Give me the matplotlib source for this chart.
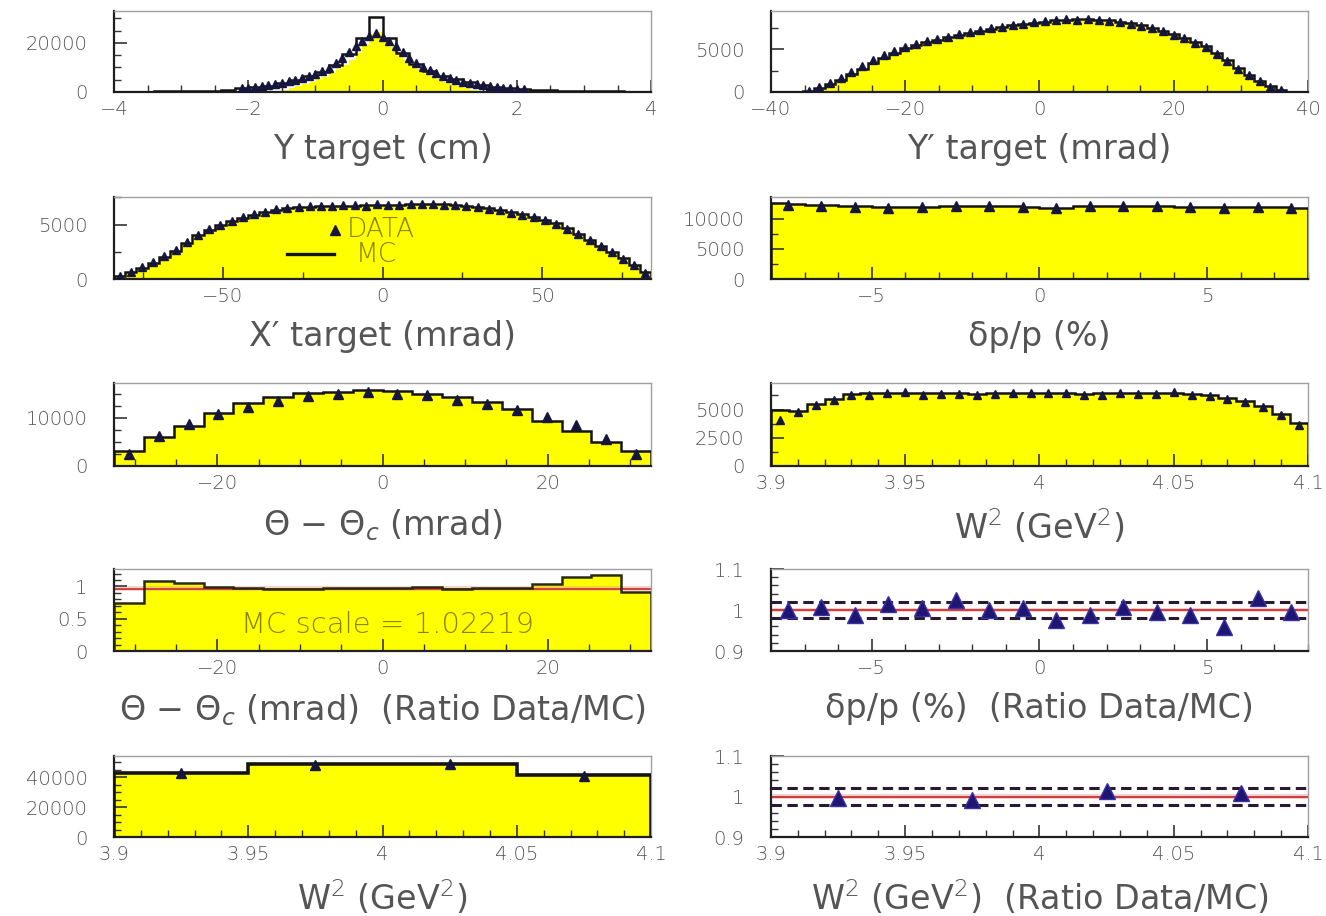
import numpy as np
import matplotlib
matplotlib.use('Agg')
import matplotlib.pyplot as plt
from matplotlib.ticker import FixedLocator, MultipleLocator, FuncFormatter

# ------------------------------------------------------------------ data
# Panel 1 : Y target (cm)
yt_range = (-4.0, 4.0)
yt_mc = [120, 150, 180, 220, 260, 320, 400, 500, 700, 1500,
         1900, 2600, 3600, 4900, 6400, 8300, 11000, 15500, 22000, 30500,
         22000, 15800, 11500, 8500, 6600, 5100, 3900, 2900, 2100, 1700,
         1400, 800, 600, 480, 400, 330, 270, 220, 180, 150]
yt_fill_range = (-1.6, 1.6)
yt_fill = [300, 900, 1600, 2400, 3300, 4200, 5200, 6300, 7600, 9200,
           11000, 13200, 16000, 19500, 23500, 24300, 21500, 18500, 15500, 13000,
           11000, 9200, 7700, 6400, 5200, 4200, 3300, 2400, 1600, 900, 400, 100]
yt_data_x = [-2.1, -2.0, -1.9, -1.8, -1.7, -1.6, -1.5, -1.4, -1.3, -1.2, -1.1,
             -1.0, -0.9, -0.8, -0.7, -0.6, -0.5, -0.4, -0.3, -0.2, -0.1,
             0.0, 0.1, 0.2, 0.3, 0.4, 0.5, 0.6, 0.7, 0.8, 0.9, 1.0,
             1.1, 1.2, 1.3, 1.4, 1.5, 1.6, 1.7, 1.8, 1.9, 2.0, 2.1]
yt_data = [1500, 1800, 2100, 2400, 2800, 3200, 3700, 4300, 4900, 5600, 6400,
           7400, 8500, 9900, 11700, 13800, 16300, 18800, 20800, 22800, 24000,
           22600, 20800, 18600, 16200, 13900, 11900, 10200, 8800, 7600, 6600, 5700,
           4900, 4200, 3600, 3100, 2700, 2300, 2000, 1800, 1600, 1400, 1200]

# Panel 2 : Y' target (mrad)
ypt_range = (-40.0, 40.0)
ypt_mc = [0, 0, 0, 100, 450, 900, 1450, 2100, 2750, 3400,
          4000, 4600, 5150, 5500, 5850, 6150, 6400, 6650, 6900, 7150,
          7350, 7600, 7800, 7950, 8100, 8250, 8400, 8500, 8550, 8550,
          8500, 8400, 8250, 8050, 7800, 7500, 7150, 6800, 6350, 5900,
          5350, 4600, 3700, 2800, 2000, 1300, 650, 250, 0, 0]
ypt_data = [0, 0, 0, 150, 550, 1050, 1650, 2350, 3050, 3800,
            4350, 4850, 5300, 5650, 5950, 6250, 6500, 6750, 7000, 7250,
            7450, 7650, 7850, 8000, 8150, 8300, 8400, 8550, 8500, 8600,
            8450, 8350, 8200, 8000, 7700, 7450, 7100, 6700, 6300, 5800,
            5250, 4500, 3600, 2750, 1950, 1250, 600, 200, 0, 0]

# Panel 3 : X' target (mrad)
xpt_range = (-84.0, 84.0)
xpt_mc = [250, 600, 1050, 1500, 2000, 2600, 3300, 4000, 4500, 4950, 5300, 5600,
          5900, 6150, 6350, 6500, 6600, 6650, 6700, 6720, 6750, 6750, 6780, 6800,
          6800, 6820, 6850, 6870, 6870, 6850, 6800, 6720, 6620, 6500, 6330, 6150,
          5950, 5700, 5450, 5100, 4650, 4150, 3600, 3050, 2500, 1900, 1300, 600]
xpt_data = [300, 650, 1100, 1600, 2100, 2700, 3400, 4050, 4600, 5000, 5350, 5650,
            5950, 6200, 6400, 6550, 6650, 6700, 6750, 6700, 6800, 6780, 6750, 6850,
            6820, 6800, 6900, 6850, 6900, 6820, 6780, 6750, 6600, 6450, 6300, 6100,
            5900, 5650, 5400, 5050, 4600, 4100, 3550, 3000, 2450, 1850, 1250, 550]

# Panel 4 : dp/p (%)
dp_range = (-8.0, 8.0)
dp_mc = [12500, 12400, 12300, 12200, 12100, 12000, 11900, 11850,
         11900, 11950, 12050, 12150, 12100, 12150, 12050, 11950,
         11750, 11800, 12000, 12100, 12150, 12100, 12050, 12000,
         11950, 11900, 11950, 11900, 11950, 11900, 11850, 11800]
dp_data_x = [-7.5, -6.5, -5.5, -4.5, -3.5, -2.5, -1.5, -0.5,
             0.5, 1.5, 2.5, 3.5, 4.5, 5.5, 6.5, 7.5]
dp_data = [12200, 12150, 11950, 11800, 11870, 12150, 12150, 11950,
           11700, 12000, 12150, 12000, 11870, 11800, 11950, 11800]

# Panel 5 : Theta - Theta_c (mrad)
th_range = (-32.5, 32.5)
th_mc = [3050, 6040, 8260, 11030, 12980, 14370, 15200, 15340, 15750,
         15620, 14920, 14370, 13330, 11730, 9370, 7220, 5000, 3050]
th_data = [2570, 6250, 8810, 10760, 12280, 13460, 14500, 14850, 15340,
           14850, 14640, 13670, 12910, 11590, 10200, 8600, 5690, 2570]

# Panel 6 : W^2 (GeV^2)
w2_range = (3.9, 4.1)
w2_mc = [4950, 4900, 5500, 5950, 6350, 6450, 6500, 6500, 6450, 6450,
         6450, 6400, 6450, 6500, 6500, 6450, 6450, 6400, 6450, 6450,
         6450, 6500, 6500, 6400, 6250, 6050, 5750, 5300, 4650, 3800]
w2_data = [4040, 4790, 5440, 5890, 6280, 6280, 6430, 6550, 6280, 6370,
           6370, 6280, 6340, 6490, 6430, 6490, 6430, 6280, 6280, 6430,
           6370, 6370, 6550, 6280, 6190, 5980, 5680, 5230, 4490, 3590]

# Panel 7 : ratio Theta - Theta_c
th_ratio = [0.74, 1.09, 1.05, 0.99, 0.97, 0.955, 0.955, 0.97, 0.97,
            0.97, 0.995, 0.955, 0.97, 0.97, 1.035, 1.14, 1.18, 0.91]
mc_scale_text = "MC scale = 1.02219"

# Panel 8 : ratio dp/p
dp_ratio = [1.001, 1.007, 0.988, 1.015, 1.004, 1.025, 1.001, 1.005,
            0.976, 0.989, 1.008, 0.996, 0.989, 0.959, 1.029, 0.996]

# Panel 9 : W^2 coarse
w2c_range = (3.9, 4.1)
w2c_mc = [42900, 48900, 48400, 41100]
w2c_x = [3.925, 3.975, 4.025, 4.075]
w2c_data = [42700, 48200, 48900, 40700]

# Panel 10 : ratio W^2 coarse
w2c_ratio = [0.996, 0.991, 1.014, 1.010]

ratio_band = 0.02

# ------------------------------------------------------------------ style
TXT = '#555555'
OLIVE = '#8a8200'
YEL = '#ffff00'
LINE = '#141414'
MARK = '#16163c'
NAVY = '#1e1670'

plt.rcParams['font.family'] = ['DejaVu Sans']
plt.rcParams['font.weight'] = 'light'
plt.rcParams['mathtext.fontset'] = 'dejavusans'


def fmt(v, pos=None):
    s = f"{v:g}"
    return s.replace('-', '\u2212')


fig = plt.figure(figsize=(13.26, 9.16), dpi=100)
LEFTS = [0.086, 0.5814]
WID = 0.405
ROWS = [(0.8996, 0.0884), (0.6954, 0.0895), (0.4913, 0.0906),
        (0.2893, 0.0895), (0.0862, 0.0884)]


def make_ax(r, c, xlim, ylim, xmaj, xmin, ymaj, ymin, xlabel):
    b, h = ROWS[r]
    ax = fig.add_axes([LEFTS[c], b, WID, h])
    ax.set_xlim(xlim)
    ax.set_ylim(ylim)
    ax.xaxis.set_major_locator(FixedLocator(xmaj))
    ax.xaxis.set_minor_locator(MultipleLocator(xmin))
    ax.yaxis.set_major_locator(FixedLocator(ymaj))
    ax.yaxis.set_minor_locator(MultipleLocator(ymin))
    ax.xaxis.set_major_formatter(FuncFormatter(fmt))
    ax.yaxis.set_major_formatter(FuncFormatter(fmt))
    ax.tick_params(which='both', direction='in', top=False, right=False,
                   color='#333333')
    ax.tick_params(which='major', length=9, width=1.2)
    ax.tick_params(which='minor', length=5, width=1.0)
    ax.tick_params(axis='x', which='major', pad=6, labelsize=14, labelcolor=TXT)
    ax.tick_params(axis='y', which='major', pad=19, labelsize=14, labelcolor=TXT)
    for s in ['top', 'right']:
        ax.spines[s].set_color('#a0a0a0')
        ax.spines[s].set_linewidth(1.0)
    for s in ['left', 'bottom']:
        ax.spines[s].set_color('#202020')
        ax.spines[s].set_linewidth(1.6)
    ax.set_xlabel(xlabel, fontsize=24, color=TXT, labelpad=10)
    return ax


def edges(rng, n):
    return np.linspace(rng[0], rng[1], n + 1)


def centers(e):
    return 0.5 * (e[:-1] + e[1:])


def mc_hist(ax, e, vals, fill=True):
    if fill:
        ax.stairs(vals, e, fill=True, color=YEL, lw=0, zorder=1)
    ax.stairs(vals, e, color=LINE, lw=1.8, zorder=3)


def data_pts(ax, x, y, ms=5.5):
    ax.plot(x, y, '^', ms=ms, color=MARK, mec=MARK, zorder=4, ls='none')


def ratio_lines(ax, center=1.0, band=0.006):
    ax.axhspan(center - band, center + band, color='#f4b0b0', alpha=0.6, lw=0, zorder=1)
    ax.axhline(center, color='#d03a3a', lw=1.4, zorder=2)
    for d in (ratio_band, -ratio_band):
        ax.axhline(center + d, color='#2a1a30', lw=2.2, ls=(0, (3.4, 1.8)), zorder=2)


# ---------------- Panel 1
ax = make_ax(0, 0, yt_range, (0, 33000), [-4, -2, 0, 2, 4], 0.5,
             [0, 20000], 5000, "Y target (cm)")
e = edges(yt_range, len(yt_mc))
ef = edges(yt_fill_range, len(yt_fill))
ax.stairs(yt_fill, ef, fill=True, color=YEL, lw=0, zorder=1)
mc_hist(ax, e, yt_mc, fill=False)
data_pts(ax, yt_data_x, yt_data)

# ---------------- Panel 2
ax = make_ax(0, 1, ypt_range, (0, 9500), [-40, -20, 0, 20, 40], 5,
             [0, 5000], 2500, "Y\u2032 target (mrad)")
e = edges(ypt_range, len(ypt_mc))
mc_hist(ax, e, ypt_mc)
c = centers(e)
sel = [i for i, v in enumerate(ypt_data) if v > 0]
data_pts(ax, c[sel], np.array(ypt_data)[sel])

# ---------------- Panel 3
ax = make_ax(1, 0, xpt_range, (0, 7530), [-50, 0, 50], 25,
             [0, 5000], 2500, "X\u2032 target (mrad)")
e = edges(xpt_range, len(xpt_mc))
mc_hist(ax, e, xpt_mc)
data_pts(ax, centers(e), xpt_data)
ax.plot([0.4115], [0.60], '^', ms=7, color=MARK, transform=ax.transAxes, zorder=5)
ax.text(0.434, 0.60, "DATA", transform=ax.transAxes, fontsize=19,
        color=OLIVE, va='center', ha='left', zorder=5)
ax.plot([0.322, 0.41], [0.30, 0.30], color=LINE, lw=2.4,
        transform=ax.transAxes, zorder=5)
ax.text(0.45, 0.30, "MC", transform=ax.transAxes, fontsize=19,
        color=OLIVE, va='center', ha='left', zorder=5)

# ---------------- Panel 4
ax = make_ax(1, 1, dp_range, (0, 13550), [-5, 0, 5], 1,
             [0, 5000, 10000], 2500, "\u03b4p/p (%)")
e = edges(dp_range, len(dp_mc))
mc_hist(ax, e, dp_mc)
data_pts(ax, dp_data_x, dp_data, ms=6.5)

# ---------------- Panel 5
ax = make_ax(2, 0, th_range, (0, 17230), [-20, 0, 20], 5,
             [0, 10000], 2500, "\u0398 \u2212 \u0398$_c$ (mrad)")
e = edges(th_range, len(th_mc))
mc_hist(ax, e, th_mc)
data_pts(ax, centers(e), th_data, ms=6.5)

# ---------------- Panel 6
ax = make_ax(2, 1, w2_range, (0, 7360), [3.9, 3.95, 4.0, 4.05, 4.1], 0.01,
             [0, 2500, 5000], 1250, "W$^2$ (GeV$^2$)")
e = edges(w2_range, len(w2_mc))
mc_hist(ax, e, w2_mc)
data_pts(ax, centers(e), w2_data)

# ---------------- Panel 7
ax = make_ax(3, 0, th_range, (0, 1.27), [-20, 0, 20], 5,
             [0, 0.5, 1], 0.1, "\u0398 \u2212 \u0398$_c$ (mrad)  (Ratio Data/MC)")
e = edges(th_range, len(th_ratio))
ax.stairs(th_ratio, e, fill=True, color=YEL, lw=0, zorder=1)
ax.axhspan(0.93, 1.0, color='#f0a080', alpha=0.45, lw=0, zorder=1.5)
ax.axhline(0.96, color='#d04040', lw=1.4, zorder=2)
ax.stairs(th_ratio, e, color='#2a2a10', lw=1.8, zorder=3)
ax.text(0.51, 0.32, mc_scale_text, transform=ax.transAxes, fontsize=21,
        color=OLIVE, ha='center', va='center', zorder=5)

# ---------------- Panel 8
ax = make_ax(3, 1, dp_range, (0.9, 1.1), [-5, 0, 5], 1,
             [0.9, 1.0, 1.1], 0.02, "\u03b4p/p (%)  (Ratio Data/MC)")
ratio_lines(ax)
ax.plot(dp_data_x, dp_ratio, '^', ms=11, color=NAVY, mec='#3a30a8',
        ls='none', zorder=4)

# ---------------- Panel 9
ax = make_ax(4, 0, w2c_range, (0, 54000), [3.9, 3.95, 4.0, 4.05, 4.1], 0.01,
             [0, 20000, 40000], 5000, "W$^2$ (GeV$^2$)")
e = edges(w2c_range, len(w2c_mc))
ax.stairs(w2c_mc, e, fill=True, color=YEL, lw=0, zorder=1)
ax.stairs(w2c_mc, e, color=LINE, lw=2.6, zorder=3)
data_pts(ax, w2c_x, w2c_data, ms=7)

# ---------------- Panel 10
ax = make_ax(4, 1, w2c_range, (0.9, 1.1), [3.9, 3.95, 4.0, 4.05, 4.1], 0.01,
             [0.9, 1.0, 1.1], 0.02, "W$^2$ (GeV$^2$)  (Ratio Data/MC)")
ratio_lines(ax)
ax.plot(w2c_x, w2c_ratio, '^', ms=11, color=NAVY, mec='#3a30a8',
        ls='none', zorder=4)

fig.savefig('out.png', dpi=100, facecolor='white')
